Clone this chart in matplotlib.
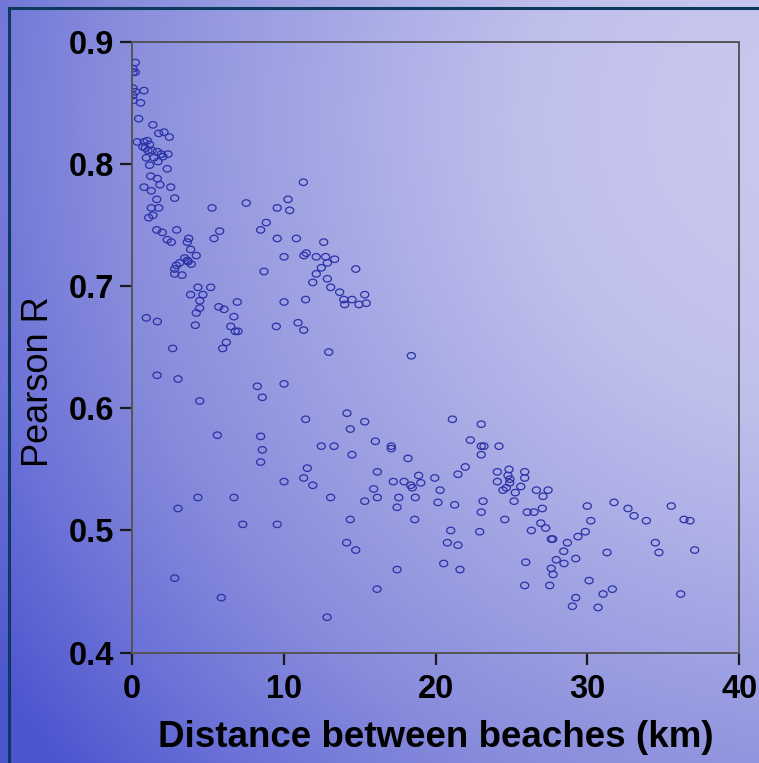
import numpy as np
import matplotlib
matplotlib.use("Agg")
import matplotlib.pyplot as plt
from matplotlib.colors import LinearSegmentedColormap
from matplotlib.lines import Line2D

plt.rcParams["font.family"] = ["Liberation Sans", "DejaVu Sans"]

# distance between beach pairs (km) and correlation of their series
distance_km = [
    0.24, 0.09, 0.24, 0.09, 0.09, 0.24, 0.81, 0.09, 0.09, 0.59,
    0.46, 1.40, 1.78, 2.13, 2.48, 0.37, 0.81, 1.03, 1.18, 0.74,
    0.90, 1.07, 1.34, 1.69, 1.95, 2.39, 2.06, 1.47, 0.96, 1.73,
    1.18, 2.34, 1.25, 1.69, 1.86, 0.81, 1.29, 2.57, 1.65, 2.83,
    1.29, 1.78, 1.40, 1.12, 5.29, 7.54, 9.58, 1.65, 2.01, 2.96,
    2.34, 2.61, 3.75, 3.66, 5.42, 5.79, 8.49, 8.86, 9.58, 3.88,
    4.25, 3.92, 3.66, 3.49, 3.16, 2.94, 2.83, 2.83, 3.31, 3.71,
    8.71, 4.36, 5.20, 3.88, 4.69, 4.48, 4.48, 4.25, 4.19, 5.73,
    6.08, 6.95, 6.73, 6.52, 6.82, 7.00, 0.96, 1.69, 6.23, 5.99,
    9.52, 2.70, 11.30, 10.29, 10.40, 10.84, 12.64, 10.03, 11.34, 11.49,
    12.15, 12.77, 13.36, 12.88, 12.48, 12.15, 11.92, 12.88, 13.10, 13.69,
    13.96, 14.50, 14.02, 14.96, 15.44, 15.34, 14.75, 10.03, 11.45, 10.95,
    11.32, 12.97, 1.67, 3.05, 8.27, 8.60, 4.48, 5.64, 8.49, 8.60,
    8.49, 4.36, 6.73, 3.05, 7.31, 9.58, 2.83, 5.90, 10.03, 18.41,
    11.45, 14.17, 15.34, 14.39, 12.48, 13.32, 14.50, 16.04, 17.09, 17.09,
    18.19, 11.56, 11.32, 11.92, 10.03, 13.10, 16.17, 17.22, 17.93, 18.37,
    18.47, 18.89, 19.03, 15.93, 16.17, 15.34, 17.58, 18.67, 17.47, 14.39,
    18.63, 14.15, 14.75, 17.47, 16.15, 12.86, 21.11, 23.01, 22.29, 23.01,
    23.19, 24.18, 23.01, 21.96, 21.48, 19.95, 20.30, 20.16, 21.26, 24.07,
    24.84, 24.77, 25.87, 25.87, 24.07, 24.90, 24.88, 24.44, 24.66, 25.25,
    25.61, 25.17, 26.64, 27.41, 27.08, 23.13, 23.01, 24.56, 26.04, 26.48,
    27.03, 26.93, 27.25, 26.31, 21.00, 22.91, 20.78, 21.48, 27.62, 27.72,
    28.68, 29.38, 28.44, 27.95, 28.46, 29.23, 25.94, 27.62, 27.74, 20.54,
    21.61, 25.87, 27.52, 29.23, 29.01, 29.99, 31.75, 32.67, 33.07, 33.88,
    35.52, 36.36, 36.75, 30.22, 29.86, 34.47, 34.71, 37.06, 31.29, 30.11,
    31.64, 31.03, 30.70, 36.14,
]
pearson_r = [
    0.883, 0.878, 0.875, 0.875, 0.862, 0.859, 0.860, 0.856, 0.852, 0.850,
    0.837, 0.832, 0.825, 0.826, 0.822, 0.818, 0.818, 0.819, 0.816, 0.814,
    0.813, 0.811, 0.811, 0.810, 0.808, 0.808, 0.806, 0.805, 0.805, 0.802,
    0.799, 0.796, 0.790, 0.788, 0.783, 0.781, 0.778, 0.781, 0.771, 0.772,
    0.764, 0.764, 0.758, 0.756, 0.764, 0.768, 0.764, 0.746, 0.744, 0.746,
    0.738, 0.736, 0.739, 0.736, 0.739, 0.745, 0.746, 0.752, 0.739, 0.730,
    0.725, 0.718, 0.721, 0.723, 0.719, 0.717, 0.714, 0.710, 0.709, 0.720,
    0.712, 0.699, 0.699, 0.693, 0.693, 0.688, 0.682, 0.678, 0.668, 0.683,
    0.681, 0.687, 0.675, 0.667, 0.663, 0.663, 0.674, 0.671, 0.654, 0.649,
    0.667, 0.649, 0.785, 0.771, 0.762, 0.739, 0.736, 0.724, 0.725, 0.727,
    0.724, 0.724, 0.722, 0.719, 0.715, 0.710, 0.703, 0.706, 0.699, 0.695,
    0.689, 0.689, 0.685, 0.685, 0.686, 0.693, 0.714, 0.687, 0.689, 0.670,
    0.664, 0.646, 0.627, 0.624, 0.618, 0.609, 0.606, 0.578, 0.577, 0.566,
    0.556, 0.527, 0.527, 0.518, 0.505, 0.505, 0.461, 0.445, 0.620, 0.643,
    0.591, 0.596, 0.589, 0.583, 0.569, 0.569, 0.562, 0.573, 0.569, 0.567,
    0.559, 0.551, 0.543, 0.537, 0.540, 0.527, 0.548, 0.540, 0.540, 0.537,
    0.535, 0.545, 0.539, 0.534, 0.527, 0.524, 0.527, 0.527, 0.519, 0.509,
    0.509, 0.490, 0.484, 0.468, 0.452, 0.429, 0.591, 0.587, 0.574, 0.569,
    0.569, 0.569, 0.562, 0.552, 0.546, 0.543, 0.533, 0.523, 0.521, 0.548,
    0.550, 0.545, 0.548, 0.543, 0.540, 0.542, 0.539, 0.533, 0.535, 0.531,
    0.536, 0.524, 0.533, 0.533, 0.528, 0.524, 0.515, 0.509, 0.515, 0.515,
    0.518, 0.506, 0.502, 0.500, 0.500, 0.499, 0.490, 0.488, 0.493, 0.493,
    0.490, 0.495, 0.483, 0.476, 0.473, 0.477, 0.474, 0.469, 0.464, 0.473,
    0.468, 0.455, 0.455, 0.445, 0.438, 0.520, 0.523, 0.518, 0.512, 0.508,
    0.520, 0.509, 0.508, 0.508, 0.499, 0.490, 0.482, 0.484, 0.482, 0.459,
    0.452, 0.448, 0.437, 0.448,
]

x_ticks = [0, 10, 20, 30, 40]
y_ticks = [0.4, 0.5, 0.6, 0.7, 0.8, 0.9]
x_tick_labels = ["0", "10", "20", "30", "40"]
y_tick_labels = ["0.4", "0.5", "0.6", "0.7", "0.8", "0.9"]

W, H = 759, 763
fig = plt.figure(figsize=(W / 100, H / 100), dpi=100)

# slide-style background: radial fade from pale lavender (upper right) to deep blue
yy, xx = np.mgrid[0:H, 0:W]
dist = np.hypot(xx - 820, yy - 120) / 1000
bg_cmap = LinearSegmentedColormap.from_list(
    "bg",
    [(0.0, "#cbcbef"), (0.30, "#bfbfec"), (0.52, "#a2a5e3"),
     (0.72, "#878bdc"), (0.86, "#6c72d7"), (1.0, "#4d55cf")],
)
fig.figimage(bg_cmap(np.clip(dist, 0, 1)), xo=0, yo=0, origin="upper", zorder=-10)

# dark frame line along top and left edge
fig.add_artist(Line2D([9 / W, 9 / W], [0, 1 - 8.3 / H], transform=fig.transFigure,
                      color="#0b3a5e", lw=2.2))
fig.add_artist(Line2D([9 / W, 1], [1 - 8.3 / H, 1 - 8.3 / H], transform=fig.transFigure,
                      color="#0b3a5e", lw=2.2))

ax = fig.add_axes([0.1735, 0.1446, 0.8006, 0.8007])
ax.set_zorder(5)
ax.patch.set_visible(False)

t = np.linspace(0, 2 * np.pi, 40)
ring = np.column_stack([np.cos(t), 0.8 * np.sin(t)])
ax.scatter(distance_km, pearson_r, s=34, marker=ring, facecolors="none",
           edgecolors="#2a32a6", linewidths=0.9)

ax.set_xlim(0, 40)
ax.set_ylim(0.4, 0.9)
ax.set_xticks(x_ticks)
ax.set_yticks(y_ticks)
ax.set_xticklabels(x_tick_labels, fontsize=23.5, fontweight="bold")
ax.set_yticklabels(y_tick_labels, fontsize=23.5, fontweight="bold")
ax.tick_params(axis="both", direction="out", length=8.5, width=1.6, color="#1a1a1a")
ax.tick_params(axis="x", pad=7)
ax.tick_params(axis="y", pad=4)

for sp in ax.spines.values():
    sp.set_color("#555555")
    sp.set_linewidth(1.4)

ax.set_xlabel("Distance between beaches (km)", fontsize=26.5, fontweight="bold")
ax.xaxis.set_label_coords(0.5, -0.154)
ax.xaxis.label.set_va("baseline")
ax.set_ylabel("Pearson R", fontsize=26)
ax.yaxis.set_label_coords(-0.153, 0.443)
ax.yaxis.label.set_va("center")

fig.savefig("out.png", dpi=100)
